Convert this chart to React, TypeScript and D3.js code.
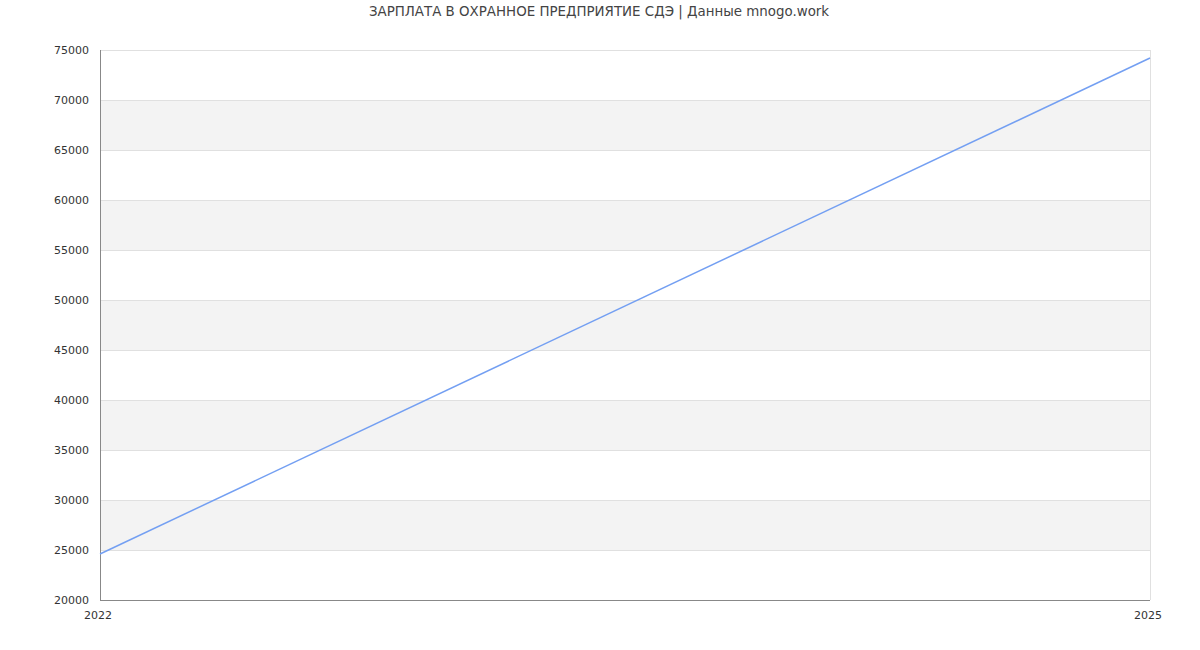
import React, {useEffect, useRef} from "react";
import * as d3 from "d3";

const years = [2022, 2025];
const salary = [24600, 74200];
const yTicks = [20000, 25000, 30000, 35000, 40000, 45000, 50000, 55000, 60000, 65000, 70000, 75000];
const title = "ЗАРПЛАТА В ОХРАННОЕ ПРЕДПРИЯТИЕ СДЭ | Данные mnogo.work";

const W = 1200;
const H = 650;
const margin = {top: 50, right: 50, bottom: 50, left: 100};

const App: React.FC = () => {
	const svgRef = useRef<SVGSVGElement>(null);

	useEffect(() => {
		const svg = d3.select(svgRef.current);
		svg.selectAll("*").remove();

		const x = d3
			.scaleLinear()
			.domain([years[0], years[years.length - 1]])
			.range([margin.left, W - margin.right]);
		const y = d3
			.scaleLinear()
			.domain([20000, 75000])
			.range([H - margin.bottom, margin.top]);

		// alternating bands
		for (let i = 0; i < yTicks.length - 1; i++) {
			if (i % 2 === 1) {
				svg
					.append("rect")
					.attr("x", x.range()[0])
					.attr("y", y(yTicks[i + 1]))
					.attr("width", x.range()[1] - x.range()[0])
					.attr("height", y(yTicks[i]) - y(yTicks[i + 1]))
					.attr("fill", "#f3f3f3");
			}
		}

		// grid lines
		svg
			.append("g")
			.selectAll("line")
			.data(yTicks)
			.enter()
			.append("line")
			.attr("x1", x.range()[0])
			.attr("x2", x.range()[1])
			.attr("y1", (d) => y(d) + 0.5)
			.attr("y2", (d) => y(d) + 0.5)
			.attr("stroke", "#e0e0e0");

		// right border
		svg
			.append("line")
			.attr("x1", x.range()[1] + 0.5)
			.attr("x2", x.range()[1] + 0.5)
			.attr("y1", y.range()[1])
			.attr("y2", y.range()[0])
			.attr("stroke", "#e0e0e0");

		// axes
		svg
			.append("line")
			.attr("x1", x.range()[0] + 0.5)
			.attr("x2", x.range()[0] + 0.5)
			.attr("y1", y.range()[1])
			.attr("y2", y.range()[0] + 0.5)
			.attr("stroke", "#888");
		svg
			.append("line")
			.attr("x1", x.range()[0])
			.attr("x2", x.range()[1])
			.attr("y1", y.range()[0] + 0.5)
			.attr("y2", y.range()[0] + 0.5)
			.attr("stroke", "#888");

		// y tick labels
		svg
			.append("g")
			.selectAll("text")
			.data(yTicks)
			.enter()
			.append("text")
			.attr("x", x.range()[0] - 11)
			.attr("y", (d) => y(d) + 4)
			.attr("text-anchor", "end")
			.style("font-size", "11px")
			.style("fill", "#333")
			.text((d) => String(d));

		// x tick labels
		svg
			.append("g")
			.selectAll("text")
			.data(years)
			.enter()
			.append("text")
			.attr("x", (d) => x(d) - 2)
			.attr("y", H - margin.bottom + 19)
			.attr("text-anchor", "middle")
			.style("font-size", "11px")
			.style("fill", "#333")
			.text((d) => String(d));

		// line
		const line = d3
			.line<number>()
			.x((_, i) => x(years[i]))
			.y((d) => y(d));
		svg
			.append("path")
			.datum(salary)
			.attr("d", line)
			.attr("fill", "none")
			.attr("stroke", "#739ff2")
			.attr("stroke-width", 1.5);

		// title
		svg
			.append("text")
			.attr("x", W / 2 - 1)
			.attr("y", 16)
			.attr("text-anchor", "middle")
			.style("font-size", "13.4px")
			.style("fill", "#444")
			.text(title);
	}, []);

	return (
		<svg
			ref={svgRef}
			width={W}
			height={H}
			style={{position: "absolute", left: 0, top: 0, fontFamily: "'DejaVu Sans', sans-serif", background: "#fff"}}
		/>
	);
};

export default App;
